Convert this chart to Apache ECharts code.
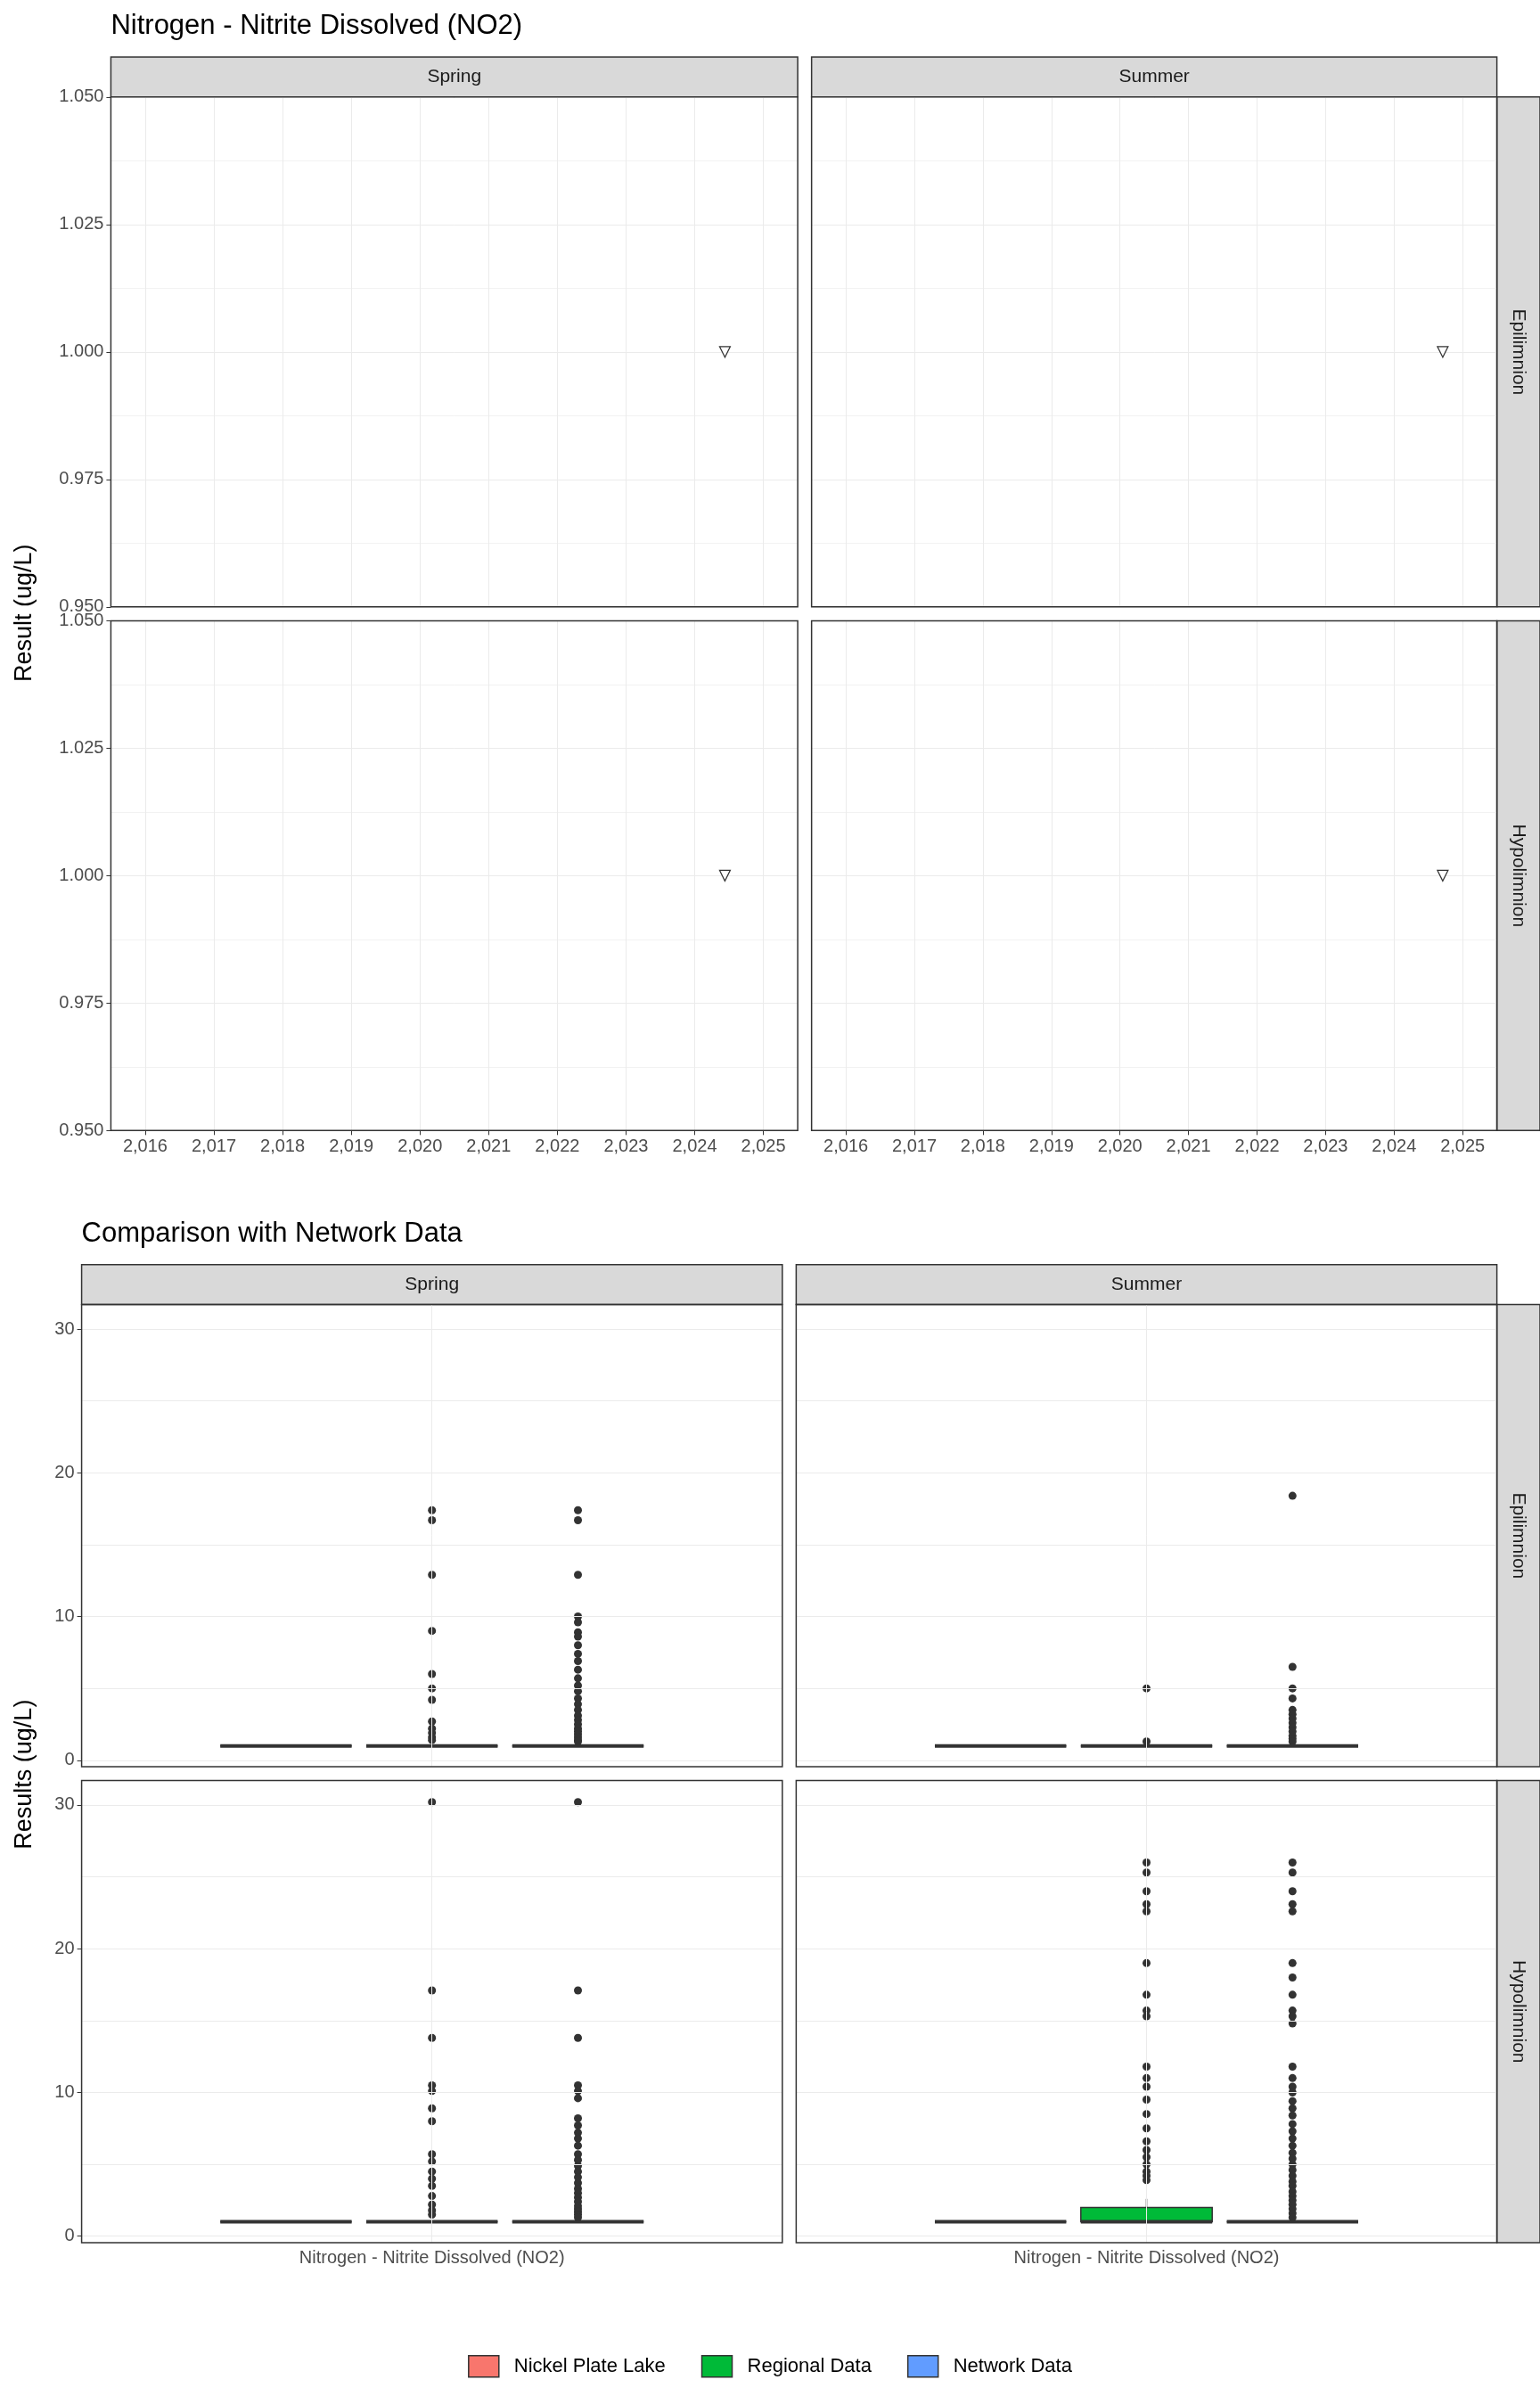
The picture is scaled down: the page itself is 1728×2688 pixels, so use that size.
<!DOCTYPE html>
<html><head><meta charset="utf-8">
<script src="https://cdn.jsdelivr.net/npm/echarts@6/dist/echarts.min.js"></script>
<style>body{margin:0;background:#fff}#c{width:1728px;height:2688px}</style>
</head><body><div id="c"></div>
<script>
// ---- data ----
const seasons = ['Spring','Summer'];
const layers = ['Epilimnion','Hypolimnion'];
const yearTicks = [2016,2017,2018,2019,2020,2021,2022,2023,2024,2025];
// top chart points: [season, layer, decimal year, value]
const nitritePoints = [['Spring','Epilimnion',2024.44,1.0],['Summer','Epilimnion',2024.71,1.0],['Spring','Hypolimnion',2024.44,1.0],['Summer','Hypolimnion',2024.71,1.0]];
const groups = ['Nickel Plate Lake','Regional Data','Network Data'];
const groupColors = ['#F8766D','#00BA38','#619CFF'];
const paramName = 'Nitrogen - Nitrite Dissolved (NO2)';
// box stats [min,q1,median,q3,max] per panel (season|layer) per group
const boxStats = {
 'Spring|Epilimnion':[[1,1,1,1,1],[1,1,1,1,1],[1,1,1,1,1]],
 'Summer|Epilimnion':[[1,1,1,1,1],[1,1,1,1,1],[1,1,1,1,1]],
 'Spring|Hypolimnion':[[1,1,1,1,1],[1,1,1,1,1],[1,1,1,1,1]],
 'Summer|Hypolimnion':[[1,1,1,1,1],[1,1,1,2,2.6],[1,1,1,1,1]]
};
const outliers = {
 'Spring|Epilimnion':[[],[17.4,16.7,12.9,9.0,6.0,5.0,4.2,2.7,2.2,1.9,1.6,1.4],[17.4,16.7,12.9,10.0,9.6,8.9,8.6,8.0,7.4,6.9,6.3,5.7,5.2,4.8,4.3,3.9,3.5,3.1,2.8,2.5,2.2,2.0,1.8,1.6,1.4,1.3]],
 'Summer|Epilimnion':[[],[5.0,1.3],[18.4,6.5,5.0,4.3,3.5,3.2,2.9,2.6,2.3,2.0,1.7,1.5,1.3]],
 'Spring|Hypolimnion':[[],[30.2,17.1,13.8,10.5,10.1,8.9,8.0,5.7,5.2,4.5,4.0,3.5,2.8,2.2,1.8,1.5],[30.2,17.1,13.8,10.5,10.1,9.6,8.2,7.7,7.2,6.8,6.3,5.7,5.3,4.9,4.5,4.1,3.7,3.3,3.0,2.7,2.4,2.1,1.9,1.7,1.5,1.3]],
 'Summer|Hypolimnion':[[],[26.0,25.3,24.0,23.1,22.6,19.0,16.8,15.7,15.3,11.8,11.0,10.4,9.5,8.5,7.5,6.6,6.0,5.5,5.0,4.5,4.2,3.9],[26.0,25.3,24.0,23.1,22.6,19.0,18.0,16.8,15.7,15.3,14.8,11.8,11.0,10.4,10.0,9.4,8.9,8.4,7.8,7.3,6.8,6.3,5.8,5.4,5.0,4.6,4.2,3.8,3.5,3.1,2.8,2.5,2.2,1.9,1.6,1.3]]
};
const groupOffsets = [-0.25,0,0.25];

// ---- layout ----
const S = 1.728, P = v => v*S;
const ch = echarts.init(document.getElementById('c'));
const grids=[], xAxes=[], yAxes=[], series=[], graphic=[];
const txt = {color:'#4d4d4d', fontSize:20, fontFamily:'Liberation Sans'};
function strip(x,y,w,h,text,vert){
  graphic.push({type:'rect',shape:{x:P(x),y:P(y),width:P(w),height:P(h)},style:{fill:'#d9d9d9',stroke:'#333',lineWidth:1.5}});
  graphic.push({type:'text',x:P(x+w/2),y:P(y+h/2),rotation:vert?-Math.PI/2:0,style:{text,fill:'#1a1a1a',font:'21px Liberation Sans',align:'center',verticalAlign:'middle'}});
}
function frame(x,y,w,h){
  graphic.push({type:'rect',z:100,shape:{x:P(x),y:P(y),width:P(w),height:P(h)},style:{fill:null,stroke:'#333',lineWidth:1.5}});
}
// top chart
const topCols=[[72,446],[527,445]], topRows=[[63,331],[403,331]];
layers.forEach((ly,r)=>seasons.forEach((se,c)=>{
  const gi=grids.length;
  grids.push({left:P(topCols[c][0]),top:P(topRows[r][0]),width:P(topCols[c][1]),height:P(topRows[r][1]),show:true,borderWidth:0,backgroundColor:'#fff'});
  frame(topCols[c][0],topRows[r][0],topCols[c][1],topRows[r][1]);
  xAxes.push({type:'value',gridIndex:gi,min:2015.5,max:2025.5,interval:0.5,axisLine:{show:false},
    axisTick:{show:r===1,length:5,customValues:yearTicks,lineStyle:{color:'#333'}},
    axisLabel:{show:r===1,...txt,customValues:yearTicks},
    splitLine:{show:true,lineStyle:{color:'#ebebeb',width:1}}});
  yAxes.push({type:'value',gridIndex:gi,min:0.95,max:1.05,interval:0.025,axisLine:{show:false},
    axisTick:{show:c===0,length:5,lineStyle:{color:'#333'}},
    axisLabel:{show:c===0,...txt,formatter:v=>v.toFixed(3)},
    minorTick:{show:false,splitNumber:2},
    minorSplitLine:{show:true,lineStyle:{color:'#f2f2f2'}},
    splitLine:{show:true,lineStyle:{color:'#ebebeb'}}});
  series.push({type:'scatter',xAxisIndex:gi,yAxisIndex:gi,symbol:'triangle',symbolRotate:180,symbolSize:12,
    itemStyle:{color:'#fff',borderColor:'#333',borderWidth:1.2,opacity:1},silent:true,
    data:nitritePoints.filter(p=>p[0]===se&&p[1]===ly).map(p=>[p[2],p[3]])});
  if(r===0) strip(topCols[c][0],37,topCols[c][1],26,se,false);
  if(c===1) strip(972,topRows[r][0],28,topRows[r][1],ly,true);
}));
// bottom chart
const botCols=[[53,455],[517,455]], botRows=[[847,300],[1156,300]];
layers.forEach((ly,r)=>seasons.forEach((se,c)=>{
  const gi=grids.length, key=se+'|'+ly;
  grids.push({left:P(botCols[c][0]),top:P(botRows[r][0]),width:P(botCols[c][1]),height:P(botRows[r][1]),show:true,borderWidth:0,backgroundColor:'#fff'});
  frame(botCols[c][0],botRows[r][0],botCols[c][1],botRows[r][1]);
  xAxes.push({type:'value',gridIndex:gi,min:0.4,max:1.6,axisLine:{show:false},
    axisTick:{show:r===1,length:5,customValues:[1],lineStyle:{color:'#333'}},
    axisLabel:{show:r===1,...txt,customValues:[1],formatter:()=>paramName},
    splitLine:{show:false}});
  yAxes.push({type:'value',gridIndex:gi,min:-0.45,max:31.7,axisLine:{show:false},
    axisTick:{show:c===0,length:5,customValues:[0,10,20,30],lineStyle:{color:'#333'}},
    axisLabel:{show:c===0,...txt,customValues:[0,10,20,30]},
    splitLine:{show:false}});
  series.push({type:'scatter',xAxisIndex:gi,yAxisIndex:gi,data:[],silent:true,
    markLine:{silent:true,symbol:'none',label:{show:false},animation:false,
      lineStyle:{color:'#ebebeb',type:'solid',width:1},
      data:[0,5,10,15,20,25,30].map(v=>({yAxis:v})).concat([{xAxis:1}])}});
  groups.forEach((g,k)=>{
    const st=boxStats[key][k], x=1+groupOffsets[k];
    series.push({type:'custom',name:g,xAxisIndex:gi,yAxisIndex:gi,itemStyle:{color:groupColors[k]},z:3,
      data:[[x,...st]],encode:{x:0,y:[1,2,3,4,5]},
      renderItem:(params,api)=>{
        const xv=api.value(0), hw=0.1125;
        const L=api.coord([xv-hw,0])[0], R=api.coord([xv+hw,0])[0], C=api.coord([xv,0])[0];
        const y=i=>api.coord([xv,api.value(i)])[1];
        return {type:'group',children:[
          {type:'line',shape:{x1:C,y1:y(1),x2:C,y2:y(2)},style:{stroke:'#333',lineWidth:1.5}},
          {type:'line',shape:{x1:C,y1:y(4),x2:C,y2:y(5)},style:{stroke:'#333',lineWidth:1.5}},
          {type:'rect',shape:{x:L,y:y(4),width:R-L,height:y(2)-y(4)},style:{fill:groupColors[k],stroke:'#333',lineWidth:1.5}},
          {type:'line',shape:{x1:L,y1:y(3),x2:R,y2:y(3)},style:{stroke:'#333',lineWidth:4}}
        ]};
      }});
    series.push({type:'scatter',name:g+' outliers',xAxisIndex:gi,yAxisIndex:gi,symbolSize:9,z:4,silent:true,
      itemStyle:{color:'#333',opacity:1},data:outliers[key][k].map(v=>[x,v])});
  });
  if(r===0) strip(botCols[c][0],821,botCols[c][1],26,se,false);
  if(c===1) strip(972,botRows[r][0],28,botRows[r][1],ly,true);
}));
graphic.push({type:'text',x:P(72),y:P(17),style:{text:'Nitrogen - Nitrite Dissolved (NO2)',font:'31px Liberation Sans',fill:'#000',verticalAlign:'middle'}});
graphic.push({type:'text',x:P(53),y:P(801),style:{text:'Comparison with Network Data',font:'31px Liberation Sans',fill:'#000',verticalAlign:'middle'}});
graphic.push({type:'text',x:P(16),y:P(398),rotation:Math.PI/2,style:{text:'Result (ug/L)',font:'27px Liberation Sans',fill:'#000',align:'center',verticalAlign:'middle'}});
graphic.push({type:'text',x:P(16),y:P(1152),rotation:Math.PI/2,style:{text:'Results (ug/L)',font:'27px Liberation Sans',fill:'#000',align:'center',verticalAlign:'middle'}});

ch.setOption({animation:false,grid:grids,xAxis:xAxes,yAxis:yAxes,series,graphic,
  legend:{data:groups,left:'center',top:P(1526),icon:'rect',itemWidth:34,itemHeight:24,itemGap:40,
    itemStyle:{borderColor:'#333',borderWidth:1.5},
    textStyle:{fontSize:22,color:'#000',fontFamily:'Liberation Sans',padding:[0,0,0,12]}}});
</script></body></html>
